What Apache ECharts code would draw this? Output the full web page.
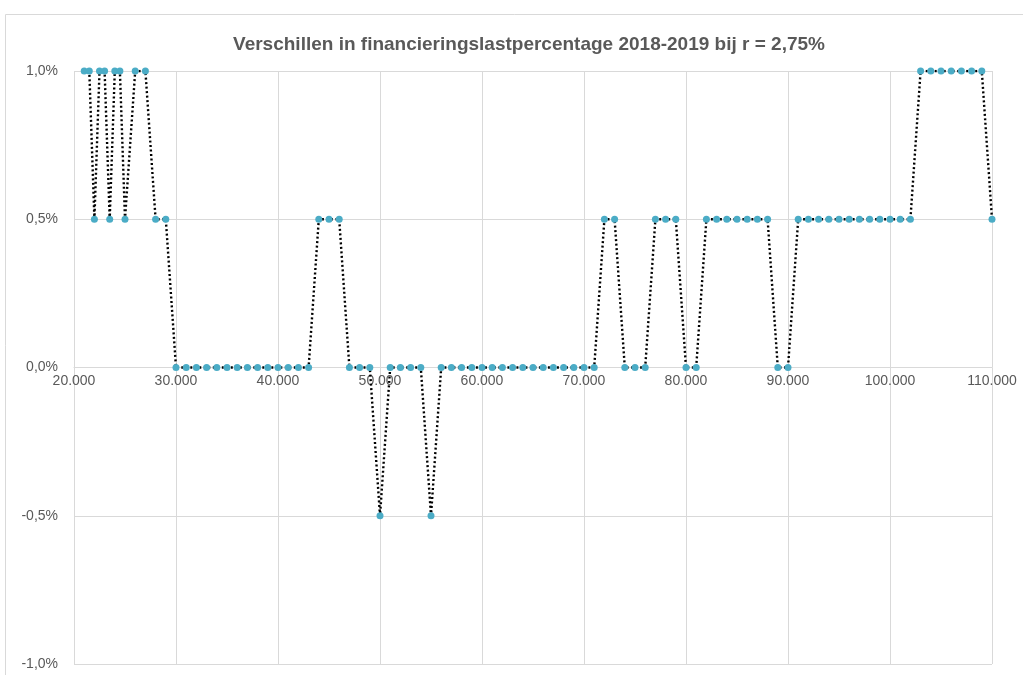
<!DOCTYPE html>
<html>
<head>
<meta charset="utf-8">
<script src="https://cdn.jsdelivr.net/npm/echarts@6/dist/echarts.min.js"></script>
<style>
  html, body { margin: 0; padding: 0; background: #fff; }
  #chart { width: 1023px; height: 675px; }
</style>
</head>
<body>
<div id="chart"></div>
<script>
// inkomen (x) en verschil in financieringslastpercentage (y, in %)
var incomes = [
  21000, 21500, 22000, 22500, 23000, 23500, 24000, 24500, 25000,
  26000, 27000, 28000, 29000, 30000, 31000, 32000, 33000, 34000, 35000,
  36000, 37000, 38000, 39000, 40000, 41000, 42000, 43000, 44000, 45000,
  46000, 47000, 48000, 49000, 50000, 51000, 52000, 53000, 54000, 55000,
  56000, 57000, 58000, 59000, 60000, 61000, 62000, 63000, 64000, 65000,
  66000, 67000, 68000, 69000, 70000, 71000, 72000, 73000, 74000, 75000,
  76000, 77000, 78000, 79000, 80000, 81000, 82000, 83000, 84000, 85000,
  86000, 87000, 88000, 89000, 90000, 91000, 92000, 93000, 94000, 95000,
  96000, 97000, 98000, 99000, 100000, 101000, 102000, 103000, 104000, 105000,
  106000, 107000, 108000, 109000, 110000
];
var diffs = [
  1.0, 1.0, 0.5, 1.0, 1.0, 0.5, 1.0, 1.0, 0.5,
  1.0, 1.0, 0.5, 0.5, 0, 0, 0, 0, 0, 0,
  0, 0, 0, 0, 0, 0, 0, 0, 0.5, 0.5,
  0.5, 0, 0, 0, -0.5, 0, 0, 0, 0, -0.5,
  0, 0, 0, 0, 0, 0, 0, 0, 0, 0,
  0, 0, 0, 0, 0, 0, 0.5, 0.5, 0, 0,
  0, 0.5, 0.5, 0.5, 0, 0, 0.5, 0.5, 0.5, 0.5,
  0.5, 0.5, 0.5, 0, 0, 0.5, 0.5, 0.5, 0.5, 0.5,
  0.5, 0.5, 0.5, 0.5, 0.5, 0.5, 0.5, 1.0, 1.0, 1.0,
  1.0, 1.0, 1.0, 1.0, 0.5
];
var chartTitle = "Verschillen in financieringslastpercentage 2018-2019 bij r = 2,75%";

var points = incomes.map(function (x, i) { return [x, diffs[i]]; });

var myChart = echarts.init(document.getElementById("chart"), null, { renderer: "canvas" });

var labelColor = "#595959";
var gridColor = "#d9d9d9";
var plotTop = 71, plotBottom = 664;

var option = {
  animation: false,
  graphic: [
    {
      type: "rect",
      shape: { x: 5.5, y: 14.5, width: 1100, height: 700 },
      style: { fill: null, stroke: gridColor, lineWidth: 1 },
      silent: true
    }
  ],
  title: {
    text: chartTitle,
    left: 524,
    top: 30,
    textAlign: "center",
    textStyle: {
      fontFamily: "Liberation Sans, sans-serif",
      fontSize: 19,
      fontWeight: "bold",
      color: labelColor
    }
  },
  grid: {
    left: 74,
    right: 31,
    top: plotTop,
    bottom: 675 - plotBottom,
    outerBoundsMode: "none",
    containLabel: false
  },
  xAxis: {
    type: "value",
    min: 20000,
    max: 110000,
    interval: 10000,
    position: "bottom",
    // x-as ligt op de nullijn (midden van -1% .. 1%)
    offset: -(plotBottom - plotTop) / 2,
    axisLine: { onZero: false, lineStyle: { color: gridColor, width: 1 } },
    axisTick: { show: false },
    splitLine: { show: true, lineStyle: { color: gridColor, width: 1 } },
    axisLabel: {
      margin: 7,
      color: labelColor,
      fontFamily: "Liberation Sans, sans-serif",
      fontSize: 14,
      formatter: function (v) {
        return String(v / 1000) + ".000";
      }
    }
  },
  yAxis: {
    type: "value",
    min: -1,
    max: 1,
    interval: 0.5,
    axisLine: { show: false },
    axisTick: { show: false },
    splitLine: { show: true, lineStyle: { color: gridColor, width: 1 } },
    axisLabel: {
      margin: 16,
      color: labelColor,
      fontFamily: "Liberation Sans, sans-serif",
      fontSize: 14,
      formatter: function (v) {
        return v.toFixed(1).replace(".", ",") + "%";
      }
    }
  },
  series: [
    {
      type: "line",
      data: points,
      symbol: "circle",
      symbolSize: 7,
      itemStyle: { color: "#4bacc6" },
      lineStyle: { color: "#000000", width: 2.4, type: [2, 2.5] },
      z: 3
    }
  ]
};

myChart.setOption(option);
window.addEventListener("resize", myChart.resize);
</script>
</body>
</html>
